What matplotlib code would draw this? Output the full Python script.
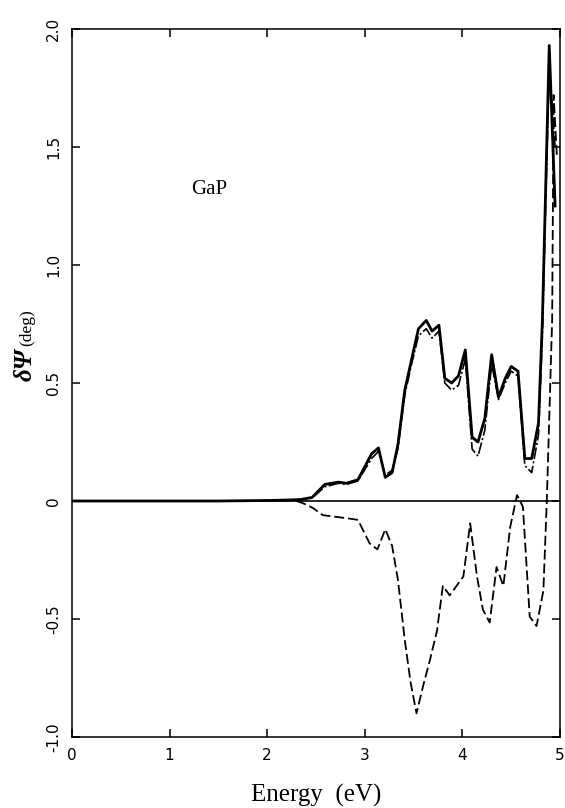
import matplotlib
matplotlib.use("Agg")
import matplotlib.pyplot as plt

# photon energy (eV) for the two positive curves
energy = [0.0, 0.5, 1.0, 1.5, 2.0, 2.2, 2.34, 2.46, 2.59, 2.73, 2.81, 2.93,
          3.07, 3.14, 3.21, 3.28, 3.34, 3.41, 3.48, 3.55, 3.63, 3.69, 3.76,
          3.82, 3.89, 3.96, 4.03, 4.10, 4.16, 4.23, 4.30, 4.37, 4.44, 4.50,
          4.57, 4.64, 4.71, 4.78, 4.82, 4.89, 4.95]
dpsi_solid = [0.0, 0.0, 0.0, 0.0, 0.002, 0.004, 0.006, 0.015, 0.07, 0.08, 0.075, 0.09,
              0.2, 0.225, 0.1, 0.12, 0.24, 0.47, 0.6, 0.73, 0.765, 0.72, 0.745,
              0.52, 0.5, 0.53, 0.64, 0.27, 0.25, 0.35, 0.62, 0.44, 0.52, 0.57,
              0.55, 0.18, 0.18, 0.33, 0.77, 1.93, 1.25]
dpsi_dashdot = [0.0, 0.0, 0.0, 0.0, 0.002, 0.004, 0.006, 0.012, 0.06, 0.075, 0.07, 0.085,
                0.18, 0.21, 0.11, 0.13, 0.22, 0.45, 0.58, 0.7, 0.73, 0.69, 0.72,
                0.5, 0.47, 0.49, 0.6, 0.22, 0.19, 0.3, 0.58, 0.43, 0.5, 0.55,
                0.53, 0.15, 0.12, 0.28, 0.7, 1.85, 1.5]

# the dashed curve that dips below zero
energy_neg = [2.3, 2.37, 2.47, 2.57, 2.68, 2.76, 2.85, 2.93, 3.05, 3.13, 3.21,
              3.28, 3.34, 3.41, 3.47, 3.53, 3.6, 3.67, 3.74, 3.80, 3.87, 4.01,
              4.08, 4.15, 4.21, 4.28, 4.35, 4.42, 4.49, 4.56, 4.62, 4.69, 4.76,
              4.83, 4.865, 4.92, 4.935, 4.97]
dpsi_dashed = [0.0, -0.01, -0.03, -0.06, -0.066, -0.07, -0.075, -0.08, -0.18, -0.205, -0.12,
               -0.19, -0.335, -0.59, -0.77, -0.9, -0.78, -0.67, -0.55, -0.36, -0.40, -0.32,
               -0.095, -0.32, -0.46, -0.515, -0.28, -0.36, -0.11, 0.025, -0.024, -0.49, -0.53,
               -0.38, 0.0, 0.77, 1.72, 1.45]

xticks = [0, 1, 2, 3, 4, 5]
yticks = [-1.0, -0.5, 0.0, 0.5, 1.0, 1.5, 2.0]
ytick_labels = ["-1.0", "-0.5", "0", "0.5", "1.0", "1.5", "2.0"]

fig = plt.figure(figsize=(5.65, 8.08), dpi=100)
ax = fig.add_axes([0.1274, 0.0879, 0.8637, 0.8762])

ax.axhline(0, color="black", lw=1.2)
ax.plot(energy, dpsi_solid, color="black", lw=2.0)
ax.plot(energy, dpsi_dashdot, color="black", lw=1.2, linestyle=(0, (7, 1.5, 1.2, 1.5)))
ax.plot(energy_neg, dpsi_dashed, color="black", lw=1.3, linestyle=(0, (5.5, 2.2)))

ax.set_xlim(0, 5)
ax.set_ylim(-1, 2)
ax.set_xticks(xticks)
ax.set_yticks(yticks)
ax.set_yticklabels(ytick_labels, rotation=90, va="center")

ax.tick_params(direction="in", length=6, width=1.1, top=True, right=True,
               labelsize=11, pad=8)
for s in ax.spines.values():
    s.set_linewidth(1.1)

ax.text(1.41, 1.32, "GaP", family="Liberation Serif", fontsize=15,
        ha="center", va="center")

ax.set_xlabel("Energy  (eV)", family="Liberation Serif", fontsize=18, labelpad=15)

# y label built from two pieces: bold italic symbol + plain unit
fig.text(25 / 565, 1 - 365 / 808, "δΨ", family="Liberation Serif", fontsize=18,
         weight="bold", style="italic", rotation=90, ha="center", va="center")
fig.text(27 / 565, 1 - 328 / 808, "(deg)", family="Liberation Serif", fontsize=12.5,
         rotation=90, ha="center", va="center")

fig.savefig("out.png", dpi=100)
